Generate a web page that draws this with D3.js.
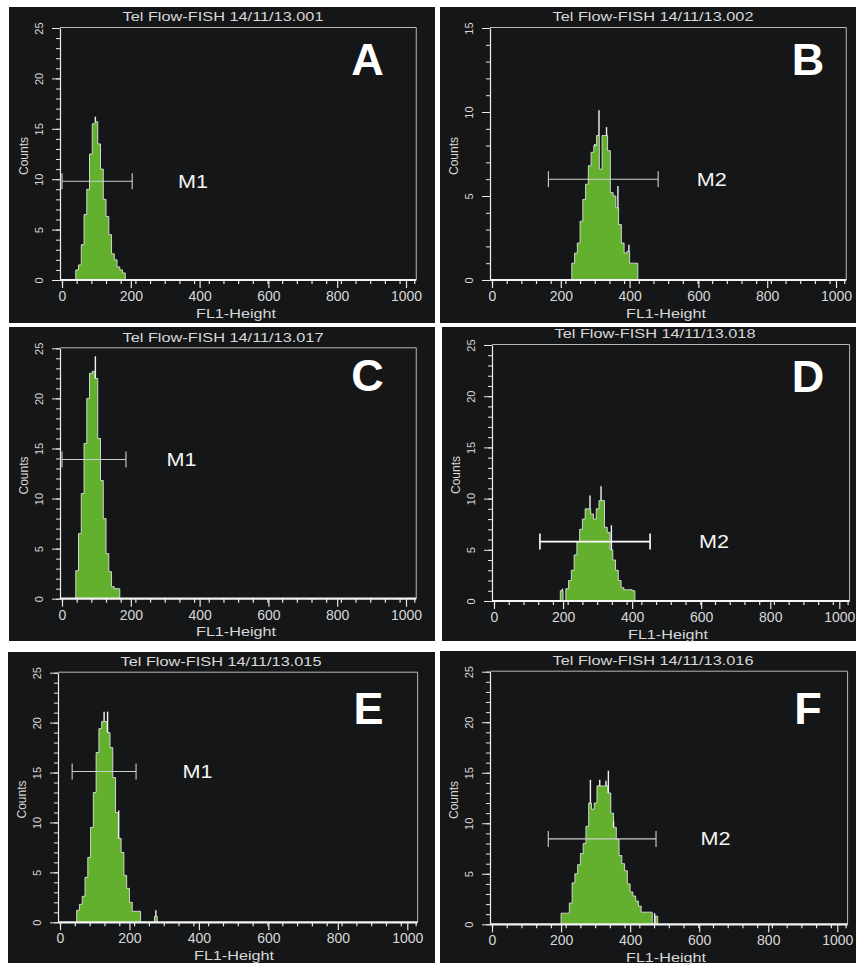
<!DOCTYPE html>
<html><head><meta charset="utf-8">
<script src="https://cdn.jsdelivr.net/npm/d3@7"></script>
<style>body{margin:0;background:#fff}svg{display:block}text{font-family:Arial,"Liberation Sans",sans-serif}</style>
</head><body>
<svg id="c" width="859" height="965"></svg>
<script>
// ---------- data ----------
const panelLetters = ["A","B","C","D","E","F"];
const titles = ["Tel Flow-FISH 14/11/13.001","Tel Flow-FISH 14/11/13.002","Tel Flow-FISH 14/11/13.017",
                "Tel Flow-FISH 14/11/13.018","Tel Flow-FISH 14/11/13.015","Tel Flow-FISH 14/11/13.016"];
const yMaxes = [25,15,25,25,25,25];
const xTickValues = [0,200,400,600,800,1000];
const xLabel = "FL1-Height";
const yLabel = "Counts";
const binWidth = 8;
const histStarts = [40,232,40,192,48,200];
const countsA = [1,1.5,3.5,6.5,9,12.5,15.5,15.7,13.5,11,8,6.3,4.5,2.6,2,1.3,1,0.7];
const countsB = [1,1.6,2.2,3.5,4.8,5.7,6.8,7.6,8,8.6,6.6,8.6,8.6,7.7,5.2,5,4.3,3.3,2.2,1.6,1.7,1,1,1];
const countsC = [2.8,6.5,10.5,15.5,20,22.5,22.7,22,16,11.8,8,4.5,2.7,1.2,1,1];
const countsD = [1,0,1.2,2,3,4.5,5.8,7,8,9,9,8.5,8,9,9.8,9.8,7.2,6.7,5,4,3,2,1.3,1.1,1.1,1.1,1];
const countsE = [1.2,1.8,2.6,4.5,6.5,9.5,13,17,19.4,20.1,20.1,19,17.5,14.5,11,8.4,7,4.7,3.4,2,1.1,1.1,1.1,0,0,0,0,0,0.6];
const countsF = [1.1,1.1,1.1,2.1,4.1,5,5.9,7,8,9.7,12,11.4,12,13.7,13.7,13.7,13.7,13,11,9.6,8.4,6.8,6,5.3,4,3.2,2.8,2.3,1.8,1.2,1.2,1.2,1.2,0,0.8];
const allCounts = [countsA,countsB,countsC,countsD,countsE,countsF];
// single-channel spikes (channel value, count)
const spikesA = [[97,16.2]];
const spikesB = [[299,8.1],[311,10.1],[333,9.1],[366,5.6],[398,2.1]];
const spikesC = [[97,24.2]];
const spikesD = [[198,1.2],[278,10.3],[310,11.2],[340,7.4]];
const spikesE = [[127,21.1],[137,21.1],[169,11.2],[276,1.2]];
const spikesF = [[285,14.3],[312,14.3],[330,14.2],[337,15.2],[352,10.2],[471,1.1]];
const allSpikes = [spikesA,spikesB,spikesC,spikesD,spikesE,spikesF];
const markerNames = ["M1","M2","M1","M2","M1","M2"];
const markerRanges = [[0,204],[164,483],[0,186],[133,452],[35,219],[163,475]];
const markerLevels = [9.8,6.0,13.9,5.8,15.1,8.45];

// ---------- layout ----------
const layout = [
  {rect:[9,7,426,316],   x0:62,  pw:344,   base:280,   top:28,    letter:[367.5,75],  mlabel:337},
  {rect:[440,7,416,316], x0:492, pw:344,   base:280,   top:28,    letter:[808,75],    mlabel:595},
  {rect:[9,327,426,314], x0:62,  pw:344,   base:598.7, top:348.3, letter:[367.5,391], mlabel:304},
  {rect:[442,327,414,314],x0:494,pw:345.3, base:601,   top:345,   letter:[808,392],   mlabel:594},
  {rect:[8,652,427,311], x0:60,  pw:347.3, base:922.3, top:672.7, letter:[368.5,723.5],mlabel:353},
  {rect:[440,651,416,312],x0:492,pw:345.3, base:924.3, top:671.7, letter:[808,723.5], mlabel:604}
];

const svg = d3.select("#c");
const green = "#62b02e", outline = "#e0e0e0", axisCol = "#e8e8e8", textCol = "#d8d8d8";

layout.forEach((L,i)=>{
  const g = svg.append("g");
  g.append("rect").attr("x",L.rect[0]).attr("y",L.rect[1]).attr("width",L.rect[2]).attr("height",L.rect[3])
    .attr("fill","#151617");
  const x = d3.scaleLinear().domain([0,1024]).range([L.x0, L.x0 + L.pw*1.024]);
  const y = d3.scaleLinear().domain([0,yMaxes[i]]).range([L.base, L.top]);
  const left = L.x0-2, right = x(1024)+2;

  // frame
  g.append("path").attr("d",`M${left},${L.top-0.5}H${right}V${L.base}`)
    .attr("fill","none").attr("stroke","#b8b8b8").attr("stroke-width",1);

  // histogram
  const counts = allCounts[i], s = histStarts[i];
  const pts = [[s,0]].concat(counts.map((c,k)=>[s+k*binWidth,c]), [[s+counts.length*binWidth,0]]);
  g.append("path").datum(pts)
    .attr("d", d3.area().x(d=>x(d[0])).y0(y(0)).y1(d=>y(d[1])).curve(d3.curveStepAfter))
    .attr("fill",green);
  g.append("path").datum(pts)
    .attr("d", d3.line().x(d=>x(d[0])).y(d=>y(d[1])).curve(d3.curveStepAfter))
    .attr("fill","none").attr("stroke",outline).attr("stroke-width",0.9);
  allSpikes[i].forEach(sp=>{
    const k = Math.floor((sp[0]-s)/binWidth);
    const base = counts[k] !== undefined ? counts[k] : 0;
    g.append("line").attr("x1",x(sp[0])).attr("x2",x(sp[0])).attr("y1",y(base)).attr("y2",y(sp[1]))
      .attr("stroke","#f2f2f2").attr("stroke-width",1.4);
  });

  // y axis: minor then major
  const yMinor = g.append("g").attr("transform",`translate(${left},0)`)
    .call(d3.axisLeft(y).tickValues(d3.range(0,yMaxes[i]+1,1)).tickSize(4).tickFormat(""));
  yMinor.select(".domain").remove();
  const yMajor = g.append("g").attr("transform",`translate(${left},0)`)
    .call(d3.axisLeft(y).tickValues(d3.range(0,yMaxes[i]+1,5)).tickSize(8).tickSizeOuter(0));
  yMajor.select(".domain").attr("stroke","#f0f0f0").attr("stroke-width",1.2);
  [yMinor,yMajor].forEach(a=>a.selectAll(".tick line").attr("stroke",axisCol));
  yMajor.selectAll(".tick text")
    .attr("transform","rotate(-90)").attr("x",0).attr("y",-(left-(L.x0-19))).attr("dy",0)
    .attr("text-anchor","middle").attr("fill",textCol).attr("font-size","11px");

  // x axis
  const xMinor = g.append("g").attr("transform",`translate(0,${L.base})`)
    .call(d3.axisBottom(x).tickValues(d3.range(0,1025,1024/24)).tickSize(4).tickFormat(""));
  xMinor.select(".domain").remove();
  const xMajor = g.append("g").attr("transform",`translate(0,${L.base})`)
    .call(d3.axisBottom(x).tickValues(xTickValues).tickSize(8).tickSizeOuter(0).tickFormat(d3.format("d")));
  xMajor.select(".domain").attr("d",`M${left},0H${right}`).attr("stroke","#f4f4f4").attr("stroke-width",2.2);
  [xMinor,xMajor].forEach(a=>a.selectAll(".tick line").attr("stroke",axisCol).attr("stroke-width",1.2));
  xMajor.selectAll(".tick text").attr("y",21).attr("dy",0).attr("fill",textCol).attr("font-size","14px");

  // labels
  g.append("text").attr("x",L.x0+161).attr("y",L.top-6.8).attr("text-anchor","middle")
    .attr("fill",textCol).attr("font-size","12.5px").attr("textLength",201).attr("lengthAdjust","spacingAndGlyphs")
    .text(titles[i]);
  g.append("text").attr("x",L.x0+174).attr("y",L.base+37.5).attr("text-anchor","middle")
    .attr("fill",textCol).attr("font-size","13px").attr("textLength",80).attr("lengthAdjust","spacingAndGlyphs")
    .text(xLabel);
  g.append("text").attr("transform",`translate(${L.x0-34},${(L.top+L.base)/2+2}) rotate(-90)`)
    .attr("text-anchor","middle").attr("fill",textCol).attr("font-size","12px").text(yLabel);
  g.append("text").attr("x",L.letter[0]).attr("y",L.letter[1]).attr("text-anchor","middle")
    .attr("fill","#fff").attr("font-size","45px").attr("font-weight","bold").text(panelLetters[i]);

  // marker
  const mr = markerRanges[i], my = y(markerLevels[i]);
  const mc = i===3 ? "#ffffff" : "#cfcfcf", mw = i===3 ? 1.6 : 1.1;
  g.append("line").attr("x1",x(mr[0])).attr("x2",x(mr[1])).attr("y1",my).attr("y2",my).attr("stroke",mc).attr("stroke-width",mw);
  mr.forEach(v=>g.append("line").attr("x1",x(v)).attr("x2",x(v)).attr("y1",my-8).attr("y2",my+8).attr("stroke",mc).attr("stroke-width",mw));
  g.append("text").attr("x",x(L.mlabel)).attr("y",my+6.5).attr("fill","#f4f4f4").attr("font-size","19px")
    .attr("textLength",30).attr("lengthAdjust","spacingAndGlyphs").text(markerNames[i]);
});
</script>
</body></html>
